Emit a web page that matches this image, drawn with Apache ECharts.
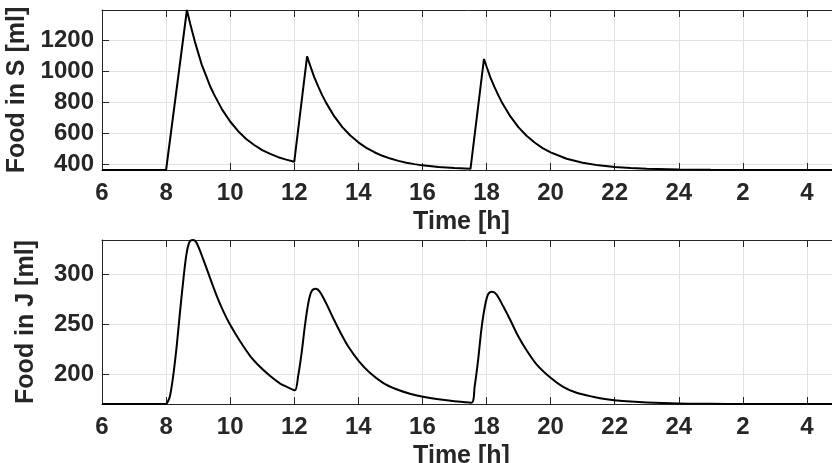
<!DOCTYPE html>
<html>
<head>
<meta charset="utf-8">
<script src="https://cdn.jsdelivr.net/npm/echarts@6/dist/echarts.min.js"></script>
<style>html,body{margin:0;padding:0;background:#fff;}#c{width:832px;height:463px;}</style>
</head>
<body>
<div id="c"></div>
<script>
// Time axis ticks (hours; values above 24 are the next day)
var timeTicks = [6, 8, 10, 12, 14, 16, 18, 20, 22, 24, 26, 28];
var tickLabelsS = [400, 600, 800, 1000, 1200];
var tickLabelsJ = [200, 250, 300];

// Food in S [ml]
var tS = [6, 8, 8.65, 8.75, 8.9, 9, 9.12, 9.25, 9.37, 9.5, 9.75, 10, 10.25, 10.5, 10.75, 11, 11.25, 11.5, 11.75, 12,
  12.4, 12.5, 12.62, 12.75, 12.87, 13, 13.25, 13.5, 13.75, 14, 14.25, 14.5, 14.75, 15, 15.25, 15.5, 15.75, 16, 16.5, 17, 17.5,
  17.92, 18, 18.12, 18.25, 18.37, 18.5, 18.75, 19, 19.25, 19.5, 19.75, 20, 20.5, 21, 21.5, 22, 22.5, 23, 24, 25, 26, 29];
var foodS = [363, 363, 1399, 1311, 1193, 1123, 1040, 972, 907, 851, 754, 677, 614, 564, 525, 492, 467, 446, 430, 416,
  1099, 1037, 966, 903, 848, 796, 710, 641, 586, 542, 506, 478, 455, 437, 422, 410, 401, 393, 383, 376, 371,
  1082, 1033, 963, 900, 846, 793, 708, 639, 585, 541, 505, 477, 436, 410, 393, 382, 376, 371, 366, 364, 363, 363];

// Food in J [ml]
var tJ = [6, 8, 8.06, 8.12, 8.22, 8.33, 8.43, 8.54, 8.64, 8.74, 8.84, 8.95, 9.16, 9.37, 9.58, 9.78, 10, 10.3, 10.62,
  10.93, 11.24, 11.55, 11.8, 12.02, 12.12, 12.23, 12.33, 12.44, 12.54, 12.67, 12.8, 13.01, 13.21, 13.42, 13.68,
  14.02, 14.36, 14.77, 15.19, 15.61, 16.02, 16.5, 17, 17.53, 17.63, 17.74, 17.84, 17.95, 18.05, 18.17, 18.31,
  18.52, 18.73, 18.99, 19.25, 19.56, 20, 20.39, 20.81, 21.32, 21.75, 22.25, 23, 24, 25, 26, 29];
var foodJ = [170.3, 170.3, 173, 178, 198, 228, 261, 295, 321, 333, 334.3, 331.5, 315, 296.5, 278.5, 263.5, 249.5, 233.5, 218.5,
  207.5, 198.5, 191, 187, 184, 198, 221.5, 248, 271.5, 283, 285.5, 282.5, 270, 256.5, 243, 228,
  213, 201.5, 191.5, 185, 180.5, 177.5, 175, 173, 171.6, 188, 215, 245, 268, 280, 282.5, 280,
  268, 255, 238, 224, 210, 196.5, 187.5, 181.5, 177.5, 175, 173.3, 171.8, 170.8, 170.5, 170.3, 170.3];

function pairs(xs, ys) { var o = []; for (var i = 0; i < xs.length; i++) o.push([xs[i], ys[i]]); return o; }

var TXT = '#262626', FONT = 'Liberation Sans';
var lineStyle = { color: TXT, width: 1 };
var gridLine = { show: true, lineStyle: { color: '#e2e2e2', width: 1 } };

function xAxisMain(gi) {
  return {
    type: 'value', gridIndex: gi, min: 6, max: 29, interval: 2, position: 'bottom',
    name: 'Time [h]', nameLocation: 'middle', nameGap: 40,
    nameTextStyle: { fontFamily: FONT, fontWeight: 'bold', fontSize: 25, color: TXT, padding: [0, 18, 0, 0] },
    axisLine: { show: true, onZero: false, lineStyle: lineStyle },
    axisTick: { show: true, inside: true, length: 7, lineStyle: lineStyle },
    axisLabel: {
      margin: 11, fontFamily: FONT, fontWeight: 'bold', fontSize: 24, color: TXT, showMaxLabel: false,
      formatter: function (v) { return timeTicks.indexOf(v) < 0 ? '' : String(v > 24 ? v - 24 : v); }
    },
    splitLine: gridLine
  };
}
function xAxisTop(gi) {
  return {
    type: 'value', gridIndex: gi, min: 6, max: 29, interval: 2, position: 'top',
    axisLine: { show: true, onZero: false, lineStyle: lineStyle },
    axisTick: { show: true, inside: true, length: 7, lineStyle: lineStyle },
    axisLabel: { show: false }, splitLine: { show: false }
  };
}
function yAxisMain(gi, name, mn, mx, ticks) {
  return {
    type: 'value', gridIndex: gi, min: mn, max: mx, position: 'left',
    name: name, nameLocation: 'middle', nameGap: 63, nameRotate: 90,
    nameTextStyle: { fontFamily: FONT, fontWeight: 'bold', fontSize: 25, color: TXT },
    axisLine: { show: true, onZero: false, lineStyle: lineStyle },
    axisTick: { show: true, inside: true, length: 7, lineStyle: lineStyle, customValues: ticks },
    axisLabel: { margin: 8, fontFamily: FONT, fontWeight: 'bold', fontSize: 24, color: TXT, customValues: ticks,
      formatter: function (v) { return String(v); } },
    splitLine: gridLine
  };
}
function yAxisRight(gi, mn, mx, ticks) {
  return {
    type: 'value', gridIndex: gi, min: mn, max: mx, position: 'right',
    axisLine: { show: true, onZero: false, lineStyle: lineStyle },
    axisTick: { show: true, inside: true, length: 7, lineStyle: lineStyle, customValues: ticks },
    axisLabel: { show: false, customValues: ticks }, splitLine: { show: false }
  };
}

var chart = echarts.init(document.getElementById('c'), null, { renderer: 'canvas' });
chart.setOption({
  animation: false,
  backgroundColor: '#ffffff',
  grid: [
    { left: 102, top: 10, width: 737, height: 160, containLabel: false, outerBoundsMode: 'none' },
    { left: 102, top: 240, width: 737, height: 164, containLabel: false, outerBoundsMode: 'none' }
  ],
  xAxis: [xAxisMain(0), xAxisTop(0), xAxisMain(1), xAxisTop(1)],
  yAxis: [
    yAxisMain(0, 'Food in S [ml]', 363, 1399, tickLabelsS),
    yAxisRight(0, 363, 1399, tickLabelsS),
    yAxisMain(1, 'Food in J [ml]', 170.3, 334.3, tickLabelsJ),
    yAxisRight(1, 170.3, 334.3, tickLabelsJ)
  ],
  series: [
    { type: 'line', xAxisIndex: 0, yAxisIndex: 0, data: pairs(tS, foodS), showSymbol: false, clip: false,
      lineStyle: { color: '#000', width: 2 } },
    { type: 'line', xAxisIndex: 2, yAxisIndex: 2, data: pairs(tJ, foodJ), showSymbol: false, clip: false,
      smooth: 0.3, lineStyle: { color: '#000', width: 2 } }
  ]
});
</script>
</body>
</html>
